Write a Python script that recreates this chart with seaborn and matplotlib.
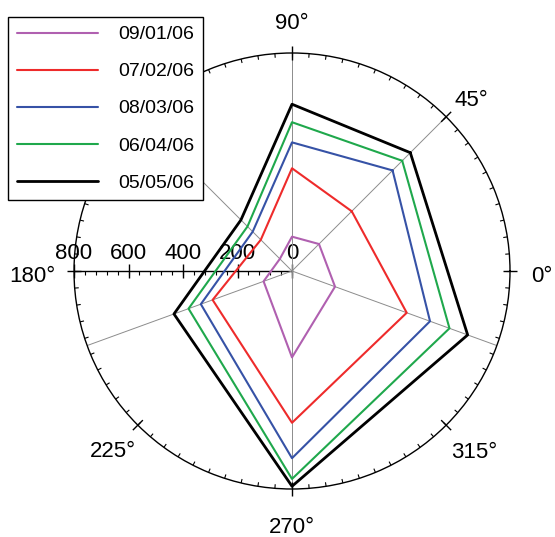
import numpy as np
import seaborn as sns
import matplotlib
matplotlib.use('Agg')
import matplotlib.pyplot as plt

# directions (deg) and the value in each direction for every date
angles = [45, 90, 135, 200, 270, 340]
dates = ['09/01/06', '07/02/06', '08/03/06', '06/04/06', '05/05/06']
v_0901 = [140, 126, 63, 111, 317, 168]
v_0702 = [310, 377, 162, 310, 557, 448]
v_0803 = [522, 472, 204, 356, 687, 539]
v_0604 = [572, 546, 231, 404, 763, 615]
v_0505 = [614, 612, 265, 461, 790, 686]
series = [v_0901, v_0702, v_0803, v_0604, v_0505]
colors = ['#b060b0', '#ee2b2b', '#3652a6', '#1fa84c', '#000000']
widths = [1.5, 1.5, 1.5, 1.5, 2.0]

r_max = 800
r_major = [0, 200, 400, 600, 800]
r_minor = 40
deg_major = [0, 45, 90, 135, 180, 225, 270, 315]
deg_minor = 4.5

sns.set_style('white')
plt.rcParams['font.family'] = ['Liberation Sans', 'DejaVu Sans']
plt.rcParams['text.color'] = 'black'

fig = plt.figure(figsize=(5.55, 5.37), dpi=100)
rect = [74 / 555, 48 / 537, 436 / 555, 436 / 537]
ax2 = fig.add_axes(rect, label='radial')
ax = fig.add_axes(rect, projection='polar', label='polar')
ax.set_zorder(2)
ax2.set_zorder(1)
ax.patch.set_visible(False)

# radial guide lines through each direction
for a in angles:
	ax.plot([np.deg2rad(a)] * 2, [0, r_max], color='#8c8c8c', lw=0.7, zorder=1)

# the polygons
handles = []
for vals, col, lw, lab in zip(series, colors, widths, dates):
	th = np.deg2rad(angles + [angles[0] + 360])
	sns.lineplot(x=th, y=vals + [vals[0]], ax=ax, sort=False, estimator=None,
				 color=col, lw=lw, zorder=3)
	handles.append(ax.lines[-1])
if ax.get_legend() is not None:
	ax.get_legend().remove()

# outer frame ticks
ax.vlines(np.deg2rad(np.arange(0, 360, deg_minor)), r_max - 15, r_max,
		  color='k', lw=0.8, clip_on=False)
ax.vlines(np.deg2rad(deg_major), r_max - 26, r_max + 26, color='k', lw=1.0, clip_on=False)

# angle labels (135 sits under the legend box, so it is not written)
offs = {0: (21, -11, 'left'), 45: (8, 11, 'left'), 90: (0, 24, 'center'),
		180: (-19, -11, 'right'), 225: (-2, -32, 'right'),
		270: (0, -44, 'center'), 315: (5, -33, 'left')}
for d in deg_major:
	if d not in offs:
		continue
	dx, dy, ha = offs[d]
	ax.annotate(u'%d\u00b0' % d, (np.deg2rad(d), r_max), xytext=(dx, dy),
				textcoords='offset pixels', ha=ha, va='baseline', fontsize=16,
				color='black', annotation_clip=False)

ax.set_xticks([])
ax.set_yticks([])
ax.grid(False)
ax.set_ylim(0, r_max)
ax.set_xlabel('')
ax.set_ylabel('')
ax.spines['polar'].set_color('black')
ax.spines['polar'].set_linewidth(1.0)

# radial scale along 180 deg
ax2.set_xlim(-r_max, r_max)
ax2.set_ylim(-r_max, r_max)
ax2.axis('off')
ax2.hlines(0, -r_max, 0, color='k', lw=1.0)
ax2.vlines(-np.array(r_major), -26, 26, color='k', lw=1.0)
ax2.vlines(-np.arange(0, r_max + 1, r_minor), -15, 0, color='k', lw=0.8)
for r in r_major:
	ax2.annotate(str(r), (-r, 0), xytext=(0, 12), textcoords='offset pixels',
				 ha='center', va='baseline', fontsize=16, color='black')

leg = fig.legend(handles, dates, loc='upper left', bbox_to_anchor=(8 / 555, 1 - 17 / 537),
				 borderaxespad=0, fontsize=14, handlelength=4.2, handletextpad=1.0,
				 labelspacing=1.0, borderpad=0.45, frameon=True, fancybox=False,
				 edgecolor='black', framealpha=1)
leg.get_frame().set_linewidth(1.0)
for t in leg.get_texts():
	t.set_color('black')

fig.savefig('out.png', dpi=100, facecolor='white')
